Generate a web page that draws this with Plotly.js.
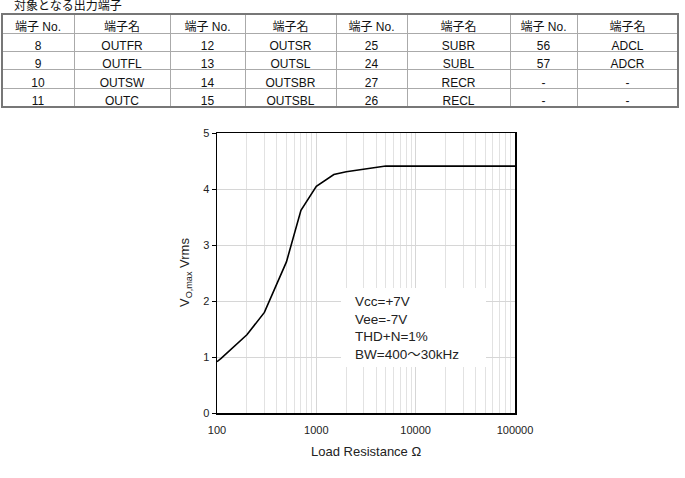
<!DOCTYPE html>
<html><head><meta charset="utf-8">
<script src="https://cdn.plot.ly/plotly-3.0.1.min.js"></script>
<style>html,body{margin:0;padding:0;background:#fff}#c{width:685px;height:478px}</style>
</head><body><div id="c"></div>
<script>
// Table data
const tableTitle = "対象となる出力端子";
const headers = ["端子 No.", "端子名", "端子 No.", "端子名", "端子 No.", "端子名", "端子 No.", "端子名"];
const colNo1 = ["8", "9", "10", "11"];
const colName1 = ["OUTFR", "OUTFL", "OUTSW", "OUTC"];
const colNo2 = ["12", "13", "14", "15"];
const colName2 = ["OUTSR", "OUTSL", "OUTSBR", "OUTSBL"];
const colNo3 = ["25", "24", "27", "26"];
const colName3 = ["SUBR", "SUBL", "RECR", "RECL"];
const colNo4 = ["56", "57", "-", "-"];
const colName4 = ["ADCL", "ADCR", "-", "-"];

// Chart data
const loadResistance = [100, 110, 200, 300, 500, 700, 1000, 1500, 2000, 3000, 5000, 100000];
const voMax = [0.92, 0.98, 1.40, 1.80, 2.70, 3.62, 4.05, 4.26, 4.31, 4.35, 4.41, 4.41];
const conditions = ["Vcc=+7V", "Vee=-7V", "THD+N=1%", "BW=400～30kHz"];
const xTitle = "Load Resistance Ω";
const yTitle = "V<sub>O,max</sub> Vrms";

const W = 685, H = 478;
const px = x => x / W, py = y => 1 - y / H;
const FONT = "Liberation Sans, Arial, Noto Sans CJK JP, sans-serif";

const traces = [
  {
    type: "table",
    domain: {x: [px(2), px(678)], y: [py(107), py(14)]},
    columnwidth: [72, 96, 75, 91, 71, 103, 67, 101],
    header: {
      values: headers,
      height: 19,
      align: "center",
      fill: {color: "#ffffff"},
      line: {color: "#aaaaaa", width: 1},
      font: {family: FONT, size: 12, color: "#111"}
    },
    cells: {
      values: [colNo1, colName1, colNo2, colName2, colNo3, colName3, colNo4, colName4],
      height: 18.4,
      align: "center",
      fill: {color: "#ffffff"},
      line: {color: "#aaaaaa", width: 1},
      font: {family: FONT, size: 12, color: "#111"}
    }
  },
  {
    type: "scatter",
    mode: "lines",
    x: loadResistance,
    y: voMax,
    line: {color: "#000", width: 1.6},
    hoverinfo: "skip"
  }
];

const layout = {
  width: W, height: H,
  margin: {l: 0, r: 0, t: 0, b: 0},
  paper_bgcolor: "#fff", plot_bgcolor: "#fff",
  showlegend: false,
  separators: ".",
  font: {family: FONT, size: 11, color: "#222"},
  xaxis: {
    type: "log",
    domain: [px(217), px(515)],
    range: [2, 5],
    dtick: 1,
    tickformat: "d",
    exponentformat: "none",
    ticklabelstandoff: 6,
    showgrid: true, gridcolor: "#d6d6d6", gridwidth: 1,
    minor: {dtick: "D1", showgrid: true, gridcolor: "#e2e2e2", gridwidth: 1, ticks: ""},
    showline: true, linecolor: "#000", linewidth: 1.5, mirror: true,
    ticks: "", zeroline: false,
    tickfont: {family: FONT, size: 11, color: "#222"},
    fixedrange: true
  },
  yaxis: {
    domain: [py(413.3), py(133)],
    range: [0, 5],
    dtick: 1,
    showgrid: true, gridcolor: "#d6d6d6", gridwidth: 1,
    showline: true, linecolor: "#000", linewidth: 1.5, mirror: true,
    ticks: "outside", ticklen: 4, tickcolor: "#000",
    zeroline: false,
    tickfont: {family: FONT, size: 11, color: "#222"},
    fixedrange: true
  },
  shapes: [
    {type: "rect", xref: "paper", yref: "paper", x0: px(2), x1: px(678), y0: py(107), y1: py(14),
     line: {color: "#777", width: 2}, fillcolor: "rgba(0,0,0,0)"},
    {type: "rect", xref: "paper", yref: "paper", x0: px(341), x1: px(486), y0: py(367), y1: py(288),
     line: {width: 0}, fillcolor: "#ffffff", layer: "above"}
  ],
  annotations: [
    {xref: "paper", yref: "paper", x: px(12), y: py(6), xanchor: "left", yanchor: "middle",
     text: tableTitle, showarrow: false, font: {family: FONT, size: 12, color: "#111"}},
    {xref: "paper", yref: "paper", x: px(353), y: py(328), xanchor: "left", yanchor: "middle",
     align: "left", text: conditions.join("<br>"), showarrow: false,
     font: {family: FONT, size: 13.5, color: "#222"}},
    {xref: "paper", yref: "paper", x: px(366), y: py(451), xanchor: "center", yanchor: "middle",
     text: xTitle, showarrow: false, font: {family: FONT, size: 13, color: "#222"}},
    {xref: "paper", yref: "paper", x: px(185), y: py(273), xanchor: "center", yanchor: "middle",
     textangle: -90, text: yTitle, showarrow: false, font: {family: FONT, size: 13, color: "#222"}}
  ]
};

Plotly.newPlot("c", traces, layout, {staticPlot: true, displayModeBar: false});
</script></body></html>
